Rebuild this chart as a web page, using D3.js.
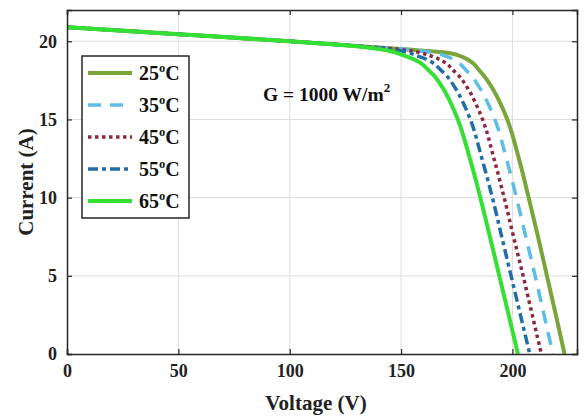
<!DOCTYPE html>
<html>
<head>
<meta charset="utf-8">
<script src="https://cdn.jsdelivr.net/npm/d3@7"></script>
<style>
  body { margin: 0; background: #fff; }
  svg { display: block; font-family: 'Liberation Serif', 'Times New Roman', serif; font-weight: bold; }
</style>
</head>
<body>
<svg width="584" height="417"></svg>
<script>
'use strict'

// I-V curves, [voltage (V), current (A)]
const curve25 = [[0, 20.9], [50, 20.45], [100, 20.0], [130, 19.7], [150, 19.5], [160, 19.4], [170, 19.28], [177.5, 19], [186, 18], [191, 17], [194.7, 16], [197.7, 15], [202.9, 12.5], [207.3, 10], [211.5, 7.5], [215.5, 5], [219.5, 2.5], [223.4, 0]]
const curve35 = [[0, 20.9], [50, 20.45], [100, 20.0], [130, 19.7], [150, 19.5], [160, 19.36], [171, 19], [180.2, 18], [185.4, 17], [189.1, 16], [192.1, 15], [197.3, 12.5], [201.8, 10], [206, 7.5], [210.2, 5], [214.2, 2.5], [218.2, 0]]
const curve45 = [[0, 20.9], [50, 20.45], [100, 20.0], [130, 19.7], [148, 19.5], [164.5, 19], [174.5, 18], [179.9, 17], [183.6, 16], [186.6, 15], [191.7, 12.5], [196.3, 10], [200.5, 7.5], [204.8, 5], [208.9, 2.5], [213, 0]]
const curve55 = [[0, 20.9], [50, 20.45], [100, 20.0], [130, 19.7], [145, 19.5], [158.5, 19], [169, 18], [174.4, 17], [178.1, 16], [181.1, 15], [186.3, 12.5], [191, 10], [195.2, 7.5], [199.4, 5], [203.6, 2.5], [207.8, 0]]
const curve65 = [[0, 20.9], [50, 20.45], [100, 20.0], [130, 19.68], [140, 19.5], [153, 19], [163.4, 18], [168.8, 17], [172.5, 16], [175.5, 15], [180.9, 12.5], [185.6, 10], [189.9, 7.5], [194.1, 5], [198.3, 2.5], [202.5, 0]]

const seriesNames = ['25', '35', '45', '55', '65']
const xTicks = [0, 50, 100, 150, 200]
const yTicks = [0, 5, 10, 15, 20]

const styles = [
  { color: '#7aa53a', width: 4, dash: null },
  { color: '#5cbde6', width: 3.5, dash: '13,9' },
  { color: '#8b2a3f', width: 3.5, dash: '3.5,3.5' },
  { color: '#1f6ea6', width: 3.5, dash: '10,4,4,4' },
  { color: '#33e033', width: 4, dash: null }
]
const allCurves = [curve25, curve35, curve45, curve55, curve65]

const svg = d3.select('svg')
const margin = { left: 67, right: 7, top: 10, bottom: 63 }
const width = 584 - margin.left - margin.right
const height = 417 - margin.top - margin.bottom

const x = d3.scaleLinear().domain([0, 229]).range([0, width])
const y = d3.scaleLinear().domain([0, 22]).range([height, 0])

const g = svg.append('g').attr('transform', `translate(${margin.left}, ${margin.top})`)

// grid
g.append('g').selectAll('line.vg')
  .data(xTicks.slice(1))
  .enter().append('line')
  .attr('x1', (d) => x(d)).attr('x2', (d) => x(d))
  .attr('y1', 0).attr('y2', height)
  .style('stroke', '#dcdcdc').style('stroke-width', 1)
g.append('g').selectAll('line.hg')
  .data(yTicks.slice(1))
  .enter().append('line')
  .attr('y1', (d) => y(d)).attr('y2', (d) => y(d))
  .attr('x1', 0).attr('x2', width)
  .style('stroke', '#dcdcdc').style('stroke-width', 1)

// curves (voltage is a smooth function of current, so spline along y)
const line = d3.line()
  .x((d) => x(d[0]))
  .y((d) => y(d[1]))
  .curve(d3.curveMonotoneY)

g.append('defs').append('clipPath').attr('id', 'clip')
  .append('rect').attr('width', width).attr('height', height)

const curvesG = g.append('g').attr('clip-path', 'url(#clip)')
allCurves.forEach((c, i) => {
  curvesG.append('path')
    .datum(c)
    .attr('d', line)
    .style('fill', 'none')
    .style('stroke', styles[i].color)
    .style('stroke-width', styles[i].width)
    .style('stroke-dasharray', styles[i].dash)
})

// axes
const xAxis = d3.axisBottom(x).tickValues(xTicks).tickSize(-5).tickPadding(10)
const yAxis = d3.axisLeft(y).tickValues(yTicks).tickSize(-5).tickPadding(10)
const xTop = d3.axisTop(x).tickValues(xTicks).tickSize(-5).tickFormat('')
const yRight = d3.axisRight(y).tickValues(yTicks).tickSize(-5).tickFormat('')

g.append('g').attr('class', 'xAxis').attr('transform', `translate(0, ${height})`).call(xAxis)
g.append('g').attr('class', 'yAxis').call(yAxis)
g.append('g').call(xTop)
g.append('g').attr('transform', `translate(${width}, 0)`).call(yRight)

g.selectAll('.domain').style('stroke', '#262626').style('stroke-width', 1.5)
g.selectAll('.tick line').style('stroke', '#262626').style('stroke-width', 1.2)
g.selectAll('.tick text')
  .style('font-family', "'Liberation Serif', serif")
  .style('font-weight', 'bold')
  .style('font-size', '18px')
  .style('fill', '#222')

// axis titles
svg.append('text')
  .attr('x', margin.left + width / 2 - 6).attr('y', 410)
  .attr('text-anchor', 'middle')
  .style('font-size', '21px').style('fill', '#222')
  .text('Voltage (V)')
svg.append('text')
  .attr('transform', `translate(33, ${margin.top + height / 2}) rotate(-90)`)
  .attr('text-anchor', 'middle')
  .style('font-size', '21px').style('fill', '#222')
  .text('Current (A)')

// irradiance note
const note = svg.append('text')
  .attr('x', 263).attr('y', 101)
  .style('font-size', '19.5px').style('fill', '#111')
note.append('tspan').text('G = 1000 W/m')
note.append('tspan').attr('dy', -9).style('font-size', '13px').text('2')

// legend
const legend = svg.append('g').attr('transform', 'translate(82, 56)')
legend.append('rect')
  .attr('width', 107).attr('height', 162)
  .style('fill', '#fff').style('stroke', '#262626').style('stroke-width', 1.5)

const rows = legend.selectAll('g.row')
  .data(seriesNames)
  .enter().append('g').attr('class', 'row')
  .attr('transform', (d, i) => `translate(0, ${17 + i * 32})`)

rows.append('line')
  .attr('x1', 6).attr('x2', 50).attr('y1', 0).attr('y2', 0)
  .style('stroke', (d, i) => styles[i].color)
  .style('stroke-width', (d, i) => styles[i].width)
  .style('stroke-dasharray', (d, i) => styles[i].dash)

const labels = rows.append('text')
  .attr('x', 57).attr('y', 7)
  .style('font-size', '20px').style('fill', '#111')
labels.append('tspan').text((d) => d)
labels.append('tspan').attr('dy', -8).style('font-size', '12.5px').text('o')
labels.append('tspan').attr('dy', 8).text('C')
</script>
</body>
</html>
